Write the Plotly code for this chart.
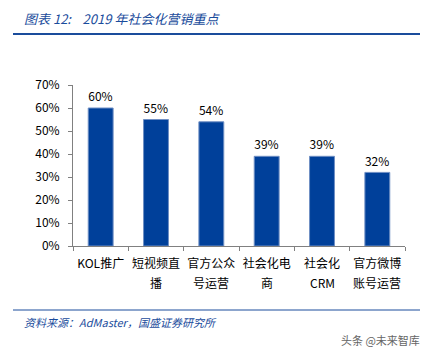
import plotly.graph_objects as go

categories = ["KOL推广", "短视频直播", "官方公众号运营", "社会化电商", "社会化CRM", "官方微博账号运营"]
label_line1 = ["KOL推广", "短视频直", "官方公众", "社会化电", "社会化", "官方微博"]
label_line2 = ["", "播", "号运营", "商", "CRM", "账号运营"]
values = [0.60, 0.55, 0.54, 0.39, 0.39, 0.32]
labels = ["60%", "55%", "54%", "39%", "39%", "32%"]
ytick_vals = [0, 0.1, 0.2, 0.3, 0.4, 0.5, 0.6, 0.7]
ytick_text = ["0%", "10%", "20%", "30%", "40%", "50%", "60%", "70%"]

font = "Noto Sans CJK SC, Noto Sans, sans-serif"
blue = "#1a4c9c"

fig = go.Figure(go.Bar(
    x=categories, y=values, text=labels, textposition="outside",
    textfont=dict(size=12.5, color="#000000", family=font),
    marker=dict(color="#00409a", line=dict(color="#6f8fc4", width=1)),
    width=0.45, cliponaxis=False,
))

annotations = [
    dict(text="<i>图表 12:    2019 年社会化营销重点</i>", xref="paper", yref="paper",
         x=-51/332, y=1 + 67/161, xanchor="left", yanchor="middle", showarrow=False,
         font=dict(size=13, color=blue, family=font)),
    dict(text="<i>资料来源：AdMaster，国盛证券研究所</i>", xref="paper", yref="paper",
         x=-51/332, y=-76/161, xanchor="left", yanchor="middle", showarrow=False,
         font=dict(size=11, color=blue, family=font)),
    dict(text="头条 @未来智库", xref="paper", yref="paper",
         x=349/332, y=-94/161, xanchor="right", yanchor="middle", showarrow=False,
         font=dict(size=11, color="#666666", family=font)),
]
for c, t in zip(categories, label_line2):
    if t:
        annotations.append(dict(text=t, x=c, xref="x", yref="paper", y=-36/161,
                                xanchor="center", yanchor="middle", showarrow=False,
                                font=dict(size=12, color="#000000", family=font)))

fig.update_layout(
    width=428, height=351,
    margin=dict(l=73, r=23, t=85, b=105),
    paper_bgcolor="white", plot_bgcolor="white",
    showlegend=False,
    font=dict(family=font, size=11, color="#000000"),
    xaxis=dict(
        tickmode="array", tickvals=categories, ticktext=label_line1, tickangle=0,
        showline=True, linecolor="#808080", linewidth=1,
        ticks="outside", tickson="boundaries", ticklen=4, tickcolor="#808080",
        tickfont=dict(size=12, color="#000000"), ticklabelstandoff=7,
    ),
    yaxis=dict(
        range=[0, 0.7], tickvals=ytick_vals, ticktext=ytick_text,
        showline=True, linecolor="#808080", linewidth=1,
        ticks="outside", ticklen=4, tickcolor="#808080",
        showgrid=False, zeroline=False,
        tickfont=dict(size=12, color="#000000"), ticklabelstandoff=6,
    ),
    shapes=[
        dict(type="line", xref="paper", yref="paper", x0=-60/332, x1=347/332,
             y0=1 + 51/161, y1=1 + 51/161, line=dict(color=blue, width=2)),
        dict(type="line", xref="paper", yref="paper", x0=-60/332, x1=347/332,
             y0=-64/161, y1=-64/161, line=dict(color=blue, width=1)),
    ],
    annotations=annotations,
)

fig.write_html("out.html")
